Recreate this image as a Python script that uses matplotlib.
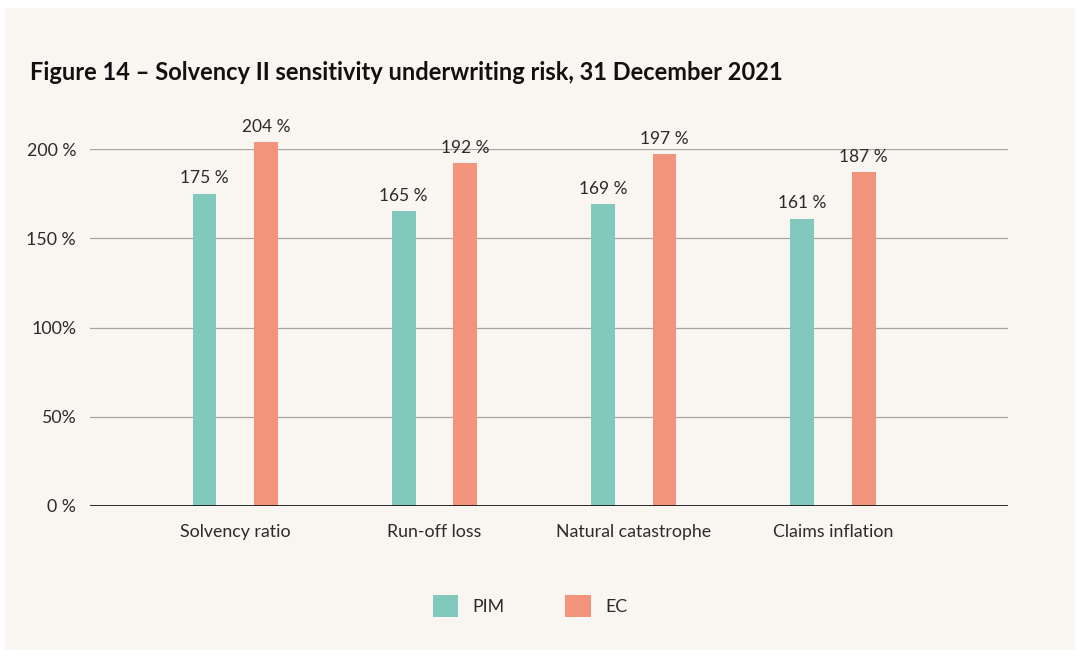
import numpy as np
import matplotlib.pyplot as plt
from matplotlib.patches import Rectangle, Patch

plt.rcParams['font.family'] = ['Lato', 'DejaVu Sans']

categories = ['Solvency ratio', 'Run-off loss', 'Natural catastrophe', 'Claims inflation']
pim = [175, 165, 169, 161]
ec = [204, 192, 197, 187]
ytick_vals = [0, 50, 100, 150, 200]
ytick_labels = ['0 %', '50%', '100%', '150 %', '200 %']

c_pim = '#82c9bd'
c_ec = '#f2937b'
bg = '#f9f5f1'
txt = '#2b2b2b'

W, H = 1080, 657
fig = plt.figure(figsize=(W / 100, H / 100), dpi=100)
fig.patch.set_facecolor('white')
fig.add_artist(Rectangle((5 / W, 1 - 650 / H), 1070 / W, 642 / H,
                         transform=fig.transFigure, facecolor=bg,
                         edgecolor='none', zorder=-10))

# axes: x 90..1008 px, y 0 -> 506 px, 200 -> 149 px
ax = fig.add_axes([90 / W, 1 - 506 / H, 918 / W, (506 - 149) / H])
ax.set_facecolor('none')

x = np.arange(len(categories))
bw = 0.12
off = 0.155
b1 = ax.bar(x - off, pim, bw, color=c_pim, clip_on=False, zorder=3)
b2 = ax.bar(x + off, ec, bw, color=c_ec, clip_on=False, zorder=3)

for bars, vals in [(b1, pim), (b2, ec)]:
    for b, v in zip(bars, vals):
        ax.text(b.get_x() + b.get_width() / 2, v + 4, f'{v} %',
                ha='center', va='bottom', fontsize=12.5, color=txt)

ax.set_xlim(-0.73, 3.88)
ax.set_ylim(0, 200)
ax.set_yticks(ytick_vals)
ax.set_yticklabels(ytick_labels)
ax.set_xticks(x)
ax.set_xticklabels(categories)
ax.tick_params(axis='both', length=0, labelsize=12.8, colors=txt)
ax.tick_params(axis='x', pad=13)
ax.tick_params(axis='y', pad=10)

for v in ytick_vals[1:]:
    ax.axhline(v, color='#a8a4a0', linewidth=0.9, zorder=1)
ax.axhline(0, color='#1a1a1a', linewidth=1.3, zorder=4)
for s in ax.spines.values():
    s.set_visible(False)

fig.text(30 / W, 1 - 72 / H, 'Figure 14 – Solvency II sensitivity underwriting risk, 31 December 2021',
         fontsize=17, fontweight='bold', color='#111111', ha='left', va='center')

handles = [Patch(facecolor=c_pim, label='PIM'), Patch(facecolor=c_ec, label='EC')]
fig.legend(handles=handles, loc='center', bbox_to_anchor=(530 / W, 1 - 606 / H),
           ncol=2, frameon=False, fontsize=12.8, handlelength=1.45, handleheight=1.45,
           handletextpad=0.8, columnspacing=3.4, labelcolor=txt)

fig.savefig('out.png', dpi=100, facecolor=fig.get_facecolor())
